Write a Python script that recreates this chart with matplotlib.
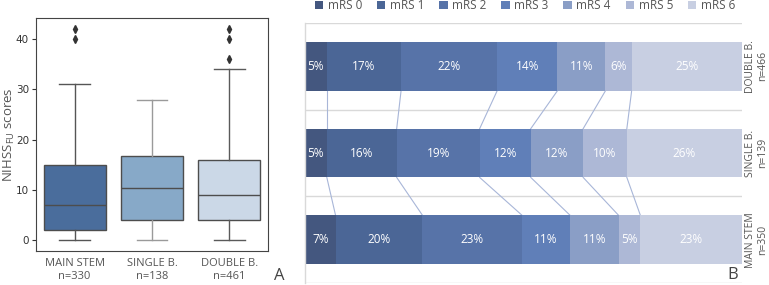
import numpy as np
import matplotlib
matplotlib.use("Agg")
import matplotlib.pyplot as plt
from matplotlib.patches import Patch

# ---- panel A data (box plot stats)
groups = ["MAIN STEM\nn=330", "SINGLE B.\nn=138", "DOUBLE B.\nn=461"]
q1 = [2, 4, 4]
med = [7, 10.5, 9]
q3 = [15, 16.8, 16]
wlo = [0, 0, 0]
whi = [31, 28, 34]
fliers = [[40, 42], [], [36, 40, 42]]
box_cols = ["#4a6d9c", "#87a9c8", "#cbd8e7"]
whisk_cols = ["#555555", "#9a9a9a", "#5a5a5a"]

# ---- panel B data (stacked percentages, bottom row first)
rows = ["MAIN STEM\nn=350", "SINGLE B.\nn=139", "DOUBLE B.\nn=466"]
mrs_labels = ["mRS 0", "mRS 1", "mRS 2", "mRS 3", "mRS 4", "mRS 5", "mRS 6"]
pct = [
    [7.0, 19.9, 22.8, 11.0, 11.1, 5.0, 23.2],   # main stem
    [5.0, 16.0, 19.0, 11.7, 12.0, 10.0, 26.3],  # single b.
    [5.0, 17.0, 22.0, 13.8, 11.0, 6.0, 25.2],   # double b.
]
mrs_cols = ["#44577f", "#4b6696", "#5773a8", "#607fb8", "#8a9ec6", "#adb8d6", "#c8cfe2"]

fig = plt.figure(figsize=(7.69, 2.85), dpi=100)

# ================= A
axA = fig.add_axes([0.0468, 0.1193, 0.3017, 0.8175])
for i in range(3):
    st = dict(med=med[i], q1=q1[i], q3=q3[i], whislo=wlo[i], whishi=whi[i], fliers=fliers[i])
    axA.bxp([st], positions=[i], widths=0.8, patch_artist=True, showfliers=True,
            boxprops=dict(facecolor=box_cols[i], edgecolor="#4d4d4d", linewidth=1.0),
            medianprops=dict(color="#4d4d4d", linewidth=1.0),
            whiskerprops=dict(color=whisk_cols[i], linewidth=1.0),
            capprops=dict(color=whisk_cols[i], linewidth=1.0),
            flierprops=dict(marker="d", markersize=4, markerfacecolor="#333333",
                            markeredgecolor="#333333"))
axA.set_xlim(-0.5, 2.5)
axA.set_ylim(-2.1, 44.2)
axA.set_yticks([0, 10, 20, 30, 40])
axA.tick_params(axis="y", labelsize=7.5, length=3, colors="#333333", width=0.8, pad=2)
axA.set_xticks([0, 1, 2])
axA.set_xticklabels(groups, fontsize=8, color="#555555", family="Open Sans", linespacing=1.3)
axA.tick_params(axis="x", length=0, pad=5)
for s in axA.spines.values():
    s.set_color("#444444")
    s.set_linewidth(0.8)
axA.set_ylabel("NIHSS$_{\\mathregular{FU}}$ scores", fontsize=9.5, color="#555555",
               family="Open Sans")
axA.yaxis.set_label_coords(-0.08, 0.5)
fig.text(279 / 769, 1 - 276 / 285, "A", fontsize=12, color="#444444", family="Open Sans",
         ha="center", va="center")

# ================= B
axB = fig.add_axes([0.3966, 0.007, 0.5679, 0.912])
h = 0.563
ypos = np.arange(len(rows))
left = np.zeros(len(rows))
for k in range(len(mrs_labels)):
    vals = np.array([p[k] for p in pct])
    axB.barh(ypos, vals, height=h, left=left, color=mrs_cols[k], edgecolor="none", zorder=2)
    for j in range(len(rows)):
        axB.text(left[j] + vals[j] / 2, ypos[j], "%.0f%%" % vals[j], ha="center", va="center",
                 color="white", fontsize=8.5, family="Open Sans", zorder=3)
    left = left + vals

# series lines between adjacent bars
cum = np.cumsum(np.array(pct), axis=1)
for j in range(len(rows) - 1):
    for k in range(len(mrs_labels) - 1):
        axB.plot([cum[j + 1][k], cum[j][k]], [ypos[j + 1] - h / 2, ypos[j] + h / 2],
                 color="#a8b6d8", lw=0.8, zorder=1)

axB.set_xlim(0, 100)
axB.set_ylim(-0.5, 2.5)
for g in [-0.5, 0.5, 1.5, 2.5]:
    axB.axhline(g, color="#d9d9d9", lw=1.0, zorder=0)
for s in ["top", "right", "bottom"]:
    axB.spines[s].set_visible(False)
axB.spines["left"].set_color("#d9d9d9")
axB.spines["left"].set_linewidth(1.0)
axB.set_xticks([])
axB.set_yticks([])
for j, r in enumerate(rows):
    axB.text(100.8, ypos[j], r, rotation=90, ha="left", va="center", multialignment="center",
             fontsize=7.5, color="#555555", family="Open Sans", linespacing=1.1)
fig.text(733 / 769, 1 - 275 / 285, "B", fontsize=12, color="#444444", family="Open Sans",
         ha="center", va="center")

handles = [Patch(facecolor=c, edgecolor="none") for c in mrs_cols]
leg = fig.legend(handles, mrs_labels, loc="upper center", bbox_to_anchor=(525 / 769, 1.04),
                 ncol=7, frameon=False, handlelength=0.7, handleheight=0.7,
                 handletextpad=0.4, columnspacing=1.25, prop=dict(family="Open Sans", size=8.5))
for t in leg.get_texts():
    t.set_color("#555555")

fig.savefig("out.png", dpi=100)
